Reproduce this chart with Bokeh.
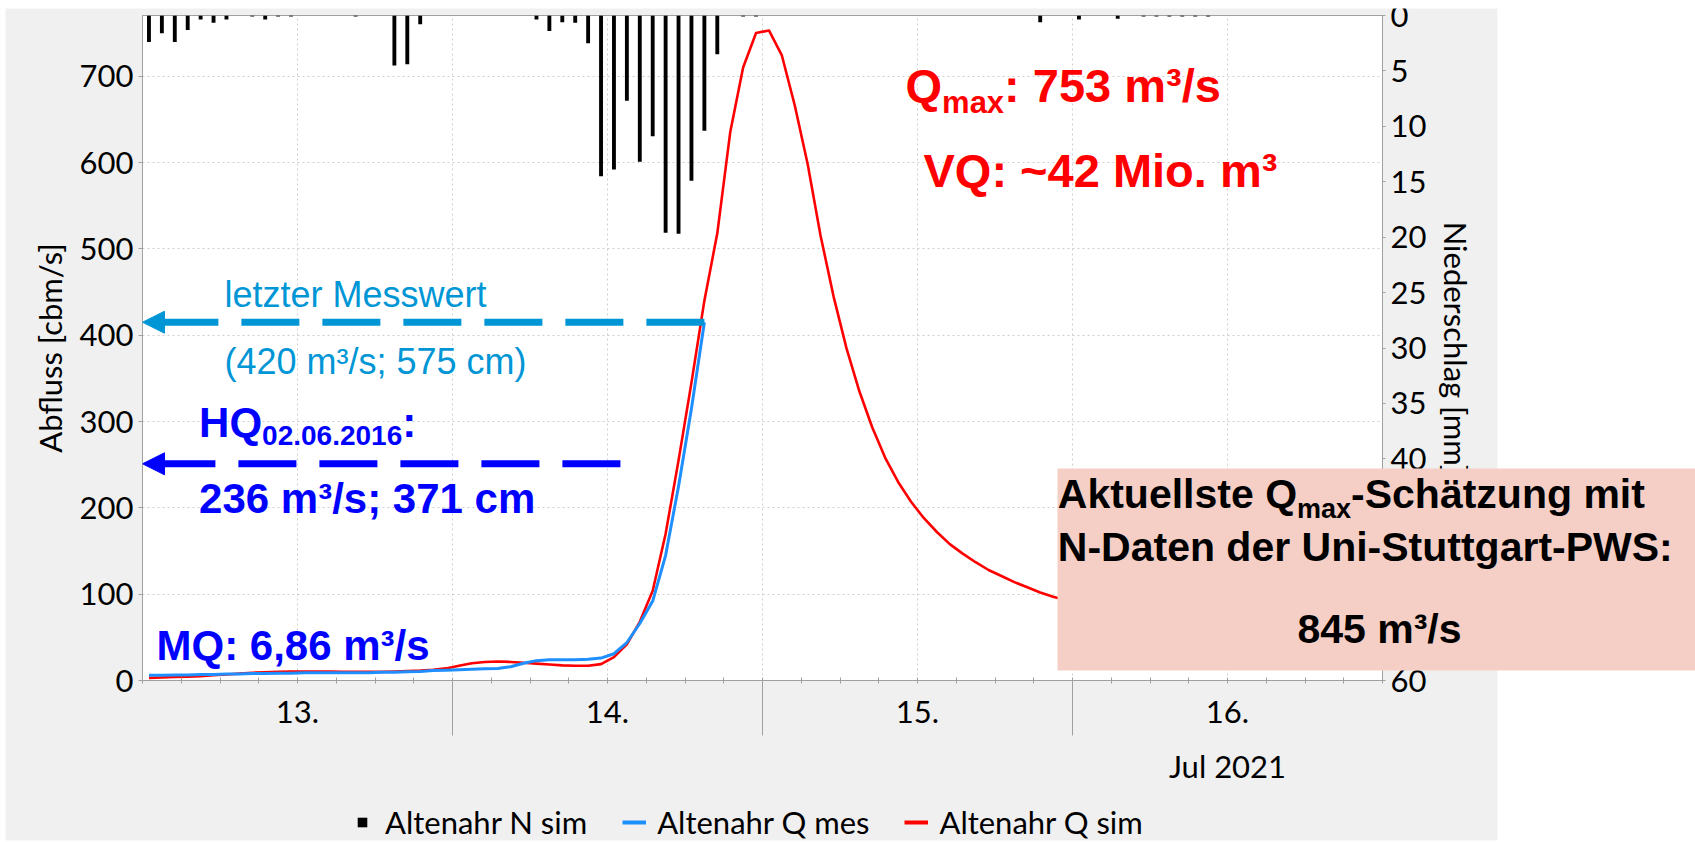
import pandas as pd
from bokeh.plotting import figure
from bokeh.models import (Range1d, LinearAxis, FixedTicker, CustomJSTickFormatter, Legend,
                          LegendItem, Label, BoxAnnotation, Arrow, NormalHead, GridBox)
from bokeh.core.properties import value
from bokeh.embed import file_html
from bokeh.resources import INLINE

# ---------------- data (hourly values) ----------------
first_hour = "2021-07-12 12:30"
rain_mm = [2.4, 1.6, 2.4, 1.3, 0.35, 0.65, 0.35, 0, 0.1, 0.35,
           0.1, 0.1, 0, 0, 0, 0, 0.1, 0, 0, 4.5,
           4.4, 0.8, 0, 0, 0, 0, 0, 0, 0, 0,
           0.35, 1.4, 0.6, 0.65, 2.5, 14.5, 13.9, 7.7, 13.2, 10.9,
           19.6, 19.7, 14.9, 10.4, 3.5, 0, 0.1, 0.1, 0, 0,
           0, 0, 0, 0, 0, 0, 0, 0, 0, 0,
           0, 0, 0, 0, 0, 0, 0, 0, 0, 0.6,
           0, 0, 0.35, 0, 0, 0.3, 0, 0.1, 0.1, 0.1,
           0.1, 0.1, 0.1, 0, 0, 0, 0, 0, 0, 0,
           0, 0, 0, 0, 0, 0]
q_sim = [3, 3.5, 4, 4.5, 5, 6, 7, 8, 9, 9.5,
         10, 10.5, 10.5, 10.5, 10.5, 10, 10, 10, 10, 10.5,
         11, 11.5, 12.5, 14, 17, 20, 21.5, 22, 21.5, 20.5,
         19.5, 18.5, 17.5, 17, 17, 19, 27, 42, 68, 104,
         170, 255, 345, 440, 518, 635, 710, 750, 753, 724,
         666, 598, 515, 445, 385, 335, 293, 258, 230, 207,
         188, 172, 158, 147, 137, 128, 121, 114, 108, 102,
         97, 93, 89, 86, 83, 80, 77, 75, 72, 70,
         68, 66, 64, 62, 61, 59, 58, 56, 55, 54,
         53, 52, 51, 50, 49, 48]
q_mes = [6, 6, 6.5, 6.5, 7, 7, 7.5, 7.5, 8, 8,
         8.5, 8.5, 9, 9, 9, 9, 9, 9, 9.5, 9.5,
         10, 10.5, 11.5, 12, 12.5, 13, 13.5, 14, 16, 20,
         23, 24, 24, 24, 24.5, 26, 31, 44, 66, 92,
         145, 225, 315, 415]
q_ticks = [0, 100, 200, 300, 400, 500, 600, 700]
mm_ticks = [0, 5, 10, 15, 20, 25, 30, 35, 40, 45, 50, 55, 60]
noon_marks = ["2021-07-13 12:00", "2021-07-14 12:00", "2021-07-15 12:00"]
month_label = ("2021-07-16", "Jul 2021")
hq_line = 251          # level of the HQ 2016 arrow as drawn
hq_end = "2021-07-14 01:00"
legend_labels = ["Altenahr N sim", "Altenahr Q mes", "Altenahr Q sim"]

hours = pd.date_range(first_hour, periods=len(q_sim), freq="h")
t_rain = hours[:len(rain_mm)]
t_sim = hours
t_mes = hours[:len(q_mes)]


def ms(ts):
    return pd.Timestamp(ts).value / 1e6


x0, x1 = ms("2021-07-12 12:00"), ms("2021-07-16 12:00")
tick3h_ms = [ms(t) for t in pd.date_range("2021-07-12 12:00", "2021-07-16 12:00", freq="3h")]
grid_ms = [ms(t) for t in pd.date_range("2021-07-13 00:00", "2021-07-16 00:00", freq="12h")]

# ---------------- layout ----------------
W, H = 1695, 842
FL, FR, FT, FB = 142, 1382, 15, 680
YTOP = 770.3

RED = "#ff0000"
BLUE = "#0000ff"
LBLUE = "#0096d6"
MESBLUE = "#1e8fff"
AXC = "#a0a0a0"
PANEL = "#f0f0f0"
TF = "Lato"

# ======================= main chart =======================
p = figure(width=W, height=H, x_axis_type="datetime",
           x_range=Range1d(x0, x1), y_range=Range1d(0, YTOP),
           output_backend="svg", toolbar_location=None,
           min_border_left=FL, min_border_right=W - FR,
           min_border_top=FT, min_border_bottom=H - FB,
           border_fill_color=PANEL, background_fill_color="white",
           outline_line_color=AXC)
p.frame_align = False

p.extra_y_ranges = {"rain": Range1d(start=60, end=0)}

# x axis: short ticks every 3 h, labels at midnight, long separators at noon
xa = p.xaxis[0]
xa.ticker = FixedTicker(ticks=tick3h_ms, minor_ticks=[ms(t) for t in noon_marks])
xa.formatter = CustomJSTickFormatter(code="""
    const d = new Date(tick);
    return d.getUTCHours() === 0 ? String(d.getUTCDate()) + "." : "";
""")
xa.major_tick_in = 3
xa.major_tick_out = 3
xa.minor_tick_in = 0
xa.minor_tick_out = 55
xa.major_label_standoff = -35
xa.major_label_text_font = TF
xa.major_label_text_font_size = "31px"
xa.major_label_text_color = "black"
xa.axis_line_color = AXC
xa.major_tick_line_color = AXC
xa.minor_tick_line_color = AXC

# left axis
ya = p.yaxis[0]
ya.ticker = FixedTicker(ticks=q_ticks)
ya.axis_label = "Abfluss [cbm/s]"
ya.axis_label_text_font = TF
ya.axis_label_text_font_style = "normal"
ya.axis_label_text_font_size = "31px"
ya.axis_label_text_color = "black"
ya.axis_label_standoff = 8
ya.major_label_text_font = TF
ya.major_label_text_font_size = "31px"
ya.major_label_text_color = "black"
ya.major_tick_in = 0
ya.major_tick_out = 4
ya.minor_tick_line_color = None
ya.major_label_standoff = 5
ya.axis_line_color = AXC
ya.major_tick_line_color = AXC

# right axis (precipitation, inverted)
ra = LinearAxis(y_range_name="rain", ticker=FixedTicker(ticks=mm_ticks),
                axis_label="Niederschlag [mm]")
ra.axis_label_text_font = TF
ra.axis_label_text_font_style = "normal"
ra.axis_label_text_font_size = "31px"
ra.axis_label_text_color = "black"
ra.axis_label_standoff = 8
ra.major_label_text_font = TF
ra.major_label_text_font_size = "31px"
ra.major_label_text_color = "black"
ra.major_tick_in = 0
ra.major_tick_out = 3
ra.major_label_standoff = 5
ra.minor_tick_line_color = None
ra.axis_line_color = AXC
ra.major_tick_line_color = AXC
p.add_layout(ra, "right")

# grids
p.xgrid.ticker = FixedTicker(ticks=grid_ms)
for g in (p.xgrid[0], p.ygrid[0]):
    g.grid_line_color = "#cfcfcf"
    g.grid_line_dash = "2 3"
    g.grid_line_width = 1

# glyphs
bars = p.vbar(x=t_rain, top=0, bottom=rain_mm, width=0.3 * 3600 * 1000,
              y_range_name="rain", fill_color="black", line_color=None)
sim = p.line(t_sim, q_sim, line_color=RED, line_width=2.6, line_join="round")
mes = p.line(t_mes, q_mes, line_color=MESBLUE, line_width=3, line_join="round")

# dashed arrows
p.add_layout(Arrow(x_start=ms(t_mes[-1]), y_start=q_mes[-1], x_end=x0, y_end=q_mes[-1],
                   line_color=LBLUE, line_width=7, line_dash="58 23",
                   end=NormalHead(size=22, fill_color=LBLUE, line_color=LBLUE)))
p.add_layout(Arrow(x_start=ms(hq_end), y_start=hq_line, x_end=x0, y_end=hq_line,
                   line_color=BLUE, line_width=7, line_dash="58 23",
                   end=NormalHead(size=22, fill_color=BLUE, line_color=BLUE)))

# ======================= overlay (whole page, same time scale) =======================
msp = (x1 - x0) / (FR - FL)          # ms per page pixel
ov = figure(frame_width=W, frame_height=H,
            x_range=Range1d(x0 - FL * msp, x0 + (W - FL) * msp), y_range=Range1d(H, 0),
            x_axis_location=None, y_axis_location=None,
            min_border=0, min_border_left=0, min_border_right=0,
            min_border_top=0, min_border_bottom=0,
            output_backend="svg", toolbar_location=None,
            border_fill_color=None, background_fill_color=None, outline_line_color=None)
ov.frame_align = False
for g in ov.grid:
    g.visible = False


def X(cx):
    return x0 + (cx - FL) * msp


def obox(l, r, t, b, color):
    ov.add_layout(BoxAnnotation(left=X(l), right=X(r), top=t, bottom=b, fill_color=color,
                                fill_alpha=1.0, line_color=None))


# white page around the grey chart panel
obox(1497, 1720, -20, 870, "white")
obox(-20, 1720, -20, 8, "white")
obox(-20, 5, -20, 870, "white")
obox(-20, 1720, 840, 870, "white")
# pink info box
obox(1057, 1720, 468, 670, "#f5cfc5")

AB = {" ": 278, "(": 333, ")": 333, ",": 278, "-": 333, ".": 278, "/": 278, ":": 333,
      ";": 333, "~": 584, "³": 333, "A": 722, "D": 722, "H": 722, "M": 833, "N": 722,
      "P": 667, "Q": 778, "S": 667, "U": 722, "V": 667, "W": 944,
      "a": 556, "c": 556, "d": 611, "e": 556, "g": 611, "h": 611, "i": 278, "k": 556,
      "l": 278, "m": 889, "n": 611, "o": 611, "r": 389, "s": 556, "t": 333, "u": 611,
      "x": 556, "z": 500, "ä": 556}


def wbold(s, size):
    return sum(AB.get(ch, 556) for ch in s) * size / 1000.0


def lab(text, cx, base, size, color, bold=True, font="Liberation Sans", align="left"):
    ov.add_layout(Label(x=X(cx), y=base - 0.358 * size, text=text,
                        text_font=font, text_font_size=f"{size}px",
                        text_font_style="bold" if bold else "normal",
                        text_color=color, text_align=align, text_baseline="middle"))


def chain(parts, cx, color):
    x = cx
    for text, size, base in parts:
        lab(text, x, base, size, color)
        x += wbold(text, size)


lab("letzter Messwert", 224, 307, 36, LBLUE, bold=False)
lab("(420 m³/s; 575 cm)", 224, 374, 36, LBLUE, bold=False)
chain([("HQ", 42, 436.7), ("02.06.2016", 28, 445), (":", 42, 436.7)], 198.6, BLUE)
lab("236 m³/s; 371 cm", 198.6, 513.3, 42, BLUE)
lab("MQ: 6,86 m³/s", 156, 660, 42, BLUE)
chain([("Q", 47, 102), ("max", 31, 113), (": 753 m³/s", 47, 102)], 905, RED)
lab("VQ: ~42 Mio. m³", 923, 187, 47, RED)
chain([("Aktuellste Q", 41, 508.3), ("max", 27, 518.3), ("-Schätzung mit", 41, 508.3)],
      1057.3, "black")
lab("N-Daten der Uni-Stuttgart-PWS:", 1057.3, 561, 41, "black")
lab("845 m³/s", 1379, 643, 41, "black", align="center")

# month label under the "16." tick
ov.add_layout(Label(x=ms(month_label[0]), y=765, text=month_label[1], text_font=TF,
                    text_font_size="31px", text_color="black",
                    text_align="center", text_baseline="middle"))

# legend keys: styled like the series, with a single key point kept off the page
off_x, off_y = [X(-400)], [-400]
k_bar = ov.scatter(x=off_x, y=off_y, marker="square", fill_color="black", line_color=None)
k_mes = ov.line(x=off_x, y=off_y, line_color=MESBLUE, line_width=4)
k_sim = ov.line(x=off_x, y=off_y, line_color=RED, line_width=4)
legend = Legend(items=[LegendItem(label=value(legend_labels[0]), renderers=[k_bar]),
                       LegendItem(label=value(legend_labels[1]), renderers=[k_mes]),
                       LegendItem(label=value(legend_labels[2]), renderers=[k_sim])],
                orientation="horizontal", location=(350, 1),
                glyph_width=24, glyph_height=30, label_standoff=11, spacing=35,
                padding=0, margin=0, background_fill_alpha=0, border_line_alpha=0,
                label_text_font=TF, label_text_font_size="31px", label_text_color="black")
ov.add_layout(legend)

layout = GridBox(children=[(p, 0, 0), (ov, 0, 0)])
open("out.html", "w").write(file_html(layout, INLINE))
